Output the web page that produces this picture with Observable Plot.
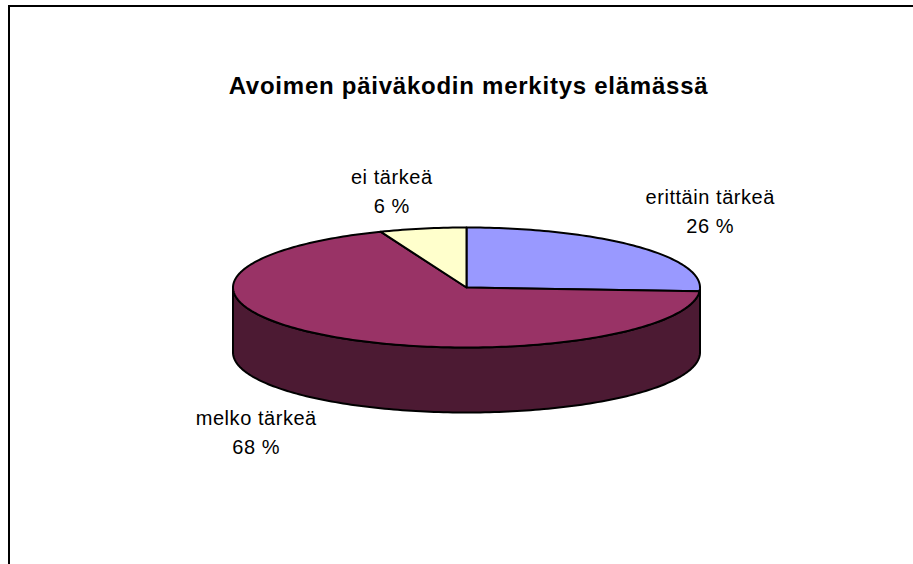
<!DOCTYPE html>
<html>
<head>
<meta charset="utf-8">
<script src="https://cdn.jsdelivr.net/npm/d3@7"></script>
<script src="https://cdn.jsdelivr.net/npm/@observablehq/plot@0.6"></script>
<style>
html,body{margin:0;padding:0;background:#fff;overflow:hidden}
#wrap{position:relative;width:913px;height:564px}
#wrap svg{position:absolute;left:0;top:0;background:transparent}
#frame{position:absolute;left:8px;top:5px;right:0;bottom:0;border-left:2px solid #000;border-top:2px solid #000}
.lab text{letter-spacing:.55px}
.ttl text{letter-spacing:.75px}
</style>
</head>
<body>
<div id="wrap"><div id="frame"></div></div>
<script>
const titleText = "Avoimen päiväkodin merkitys elämässä";
const categories = ["erittäin tärkeä", "melko tärkeä", "ei tärkeä"];
const shares = [26, 68, 6];
const colors = ["#9999FF", "#993366", "#FFFFCC"];
const sideColor = "#4C1A33";
const labelOffsets = [[73.5, -37], [-73, 94.5], [-31, -39]];
const depth = 65 / 60;

const total = d3.sum(shares);
let acc = 0;
const slices = shares.map((s, i) => {
  const a0 = acc / total * 2 * Math.PI; acc += s;
  const a1 = acc / total * 2 * Math.PI;
  return {name: categories[i], share: s, color: colors[i], a0, a1, mid: (a0 + a1) / 2};
});
const arc = (a0, a1, dz = 0) => {
  const n = Math.max(2, Math.ceil((a1 - a0) / 0.02));
  return d3.range(n + 1).map(k => {
    const a = a0 + (a1 - a0) * k / n;
    return {x: Math.sin(a), y: Math.cos(a) - dz};
  });
};
const sidePts = [...arc(Math.PI / 2, 3 * Math.PI / 2), ...arc(Math.PI / 2, 3 * Math.PI / 2, depth).reverse()];
sidePts.push(sidePts[0]);
const style = {x: "x", y: "y", stroke: "#000", strokeWidth: 2, strokeLinejoin: "round"};
const slicePts = d => [{x: 0, y: 0}, ...arc(d.a0, d.a1), {x: 0, y: 0}];

const marks = [
  Plot.line(sidePts, {...style, fill: sideColor}),
  ...slices.map(d => Plot.line(slicePts(d), {...style, fill: d.color})),
  ...slices.map((d, i) => Plot.text([d], {
    x: v => Math.sin(v.mid), y: v => Math.cos(v.mid),
    text: v => `${v.name}\n${v.share} %`,
    dx: labelOffsets[i][0], dy: labelOffsets[i][1],
    className: "lab",
    fontFamily: "Liberation Sans, Arial, sans-serif", fontSize: 20, lineHeight: 1.45, fill: "#000"
  })),
  Plot.text([titleText], {
    text: d => d, frameAnchor: "top-left", textAnchor: "middle", dx: 468, dy: 76,
    className: "ttl",
    fontFamily: "Liberation Sans, Arial, sans-serif", fontSize: 24, fontWeight: "bold", fill: "#000"
  })
];
const chart = Plot.plot({
  width: 913, height: 564, margin: 0,
  x: {domain: [-1, 1], range: [232.5, 699.5], axis: null},
  y: {domain: [-1, 1], range: [347, 227], axis: null},
  marks
});
document.getElementById("wrap").appendChild(chart);
</script>
</body>
</html>
